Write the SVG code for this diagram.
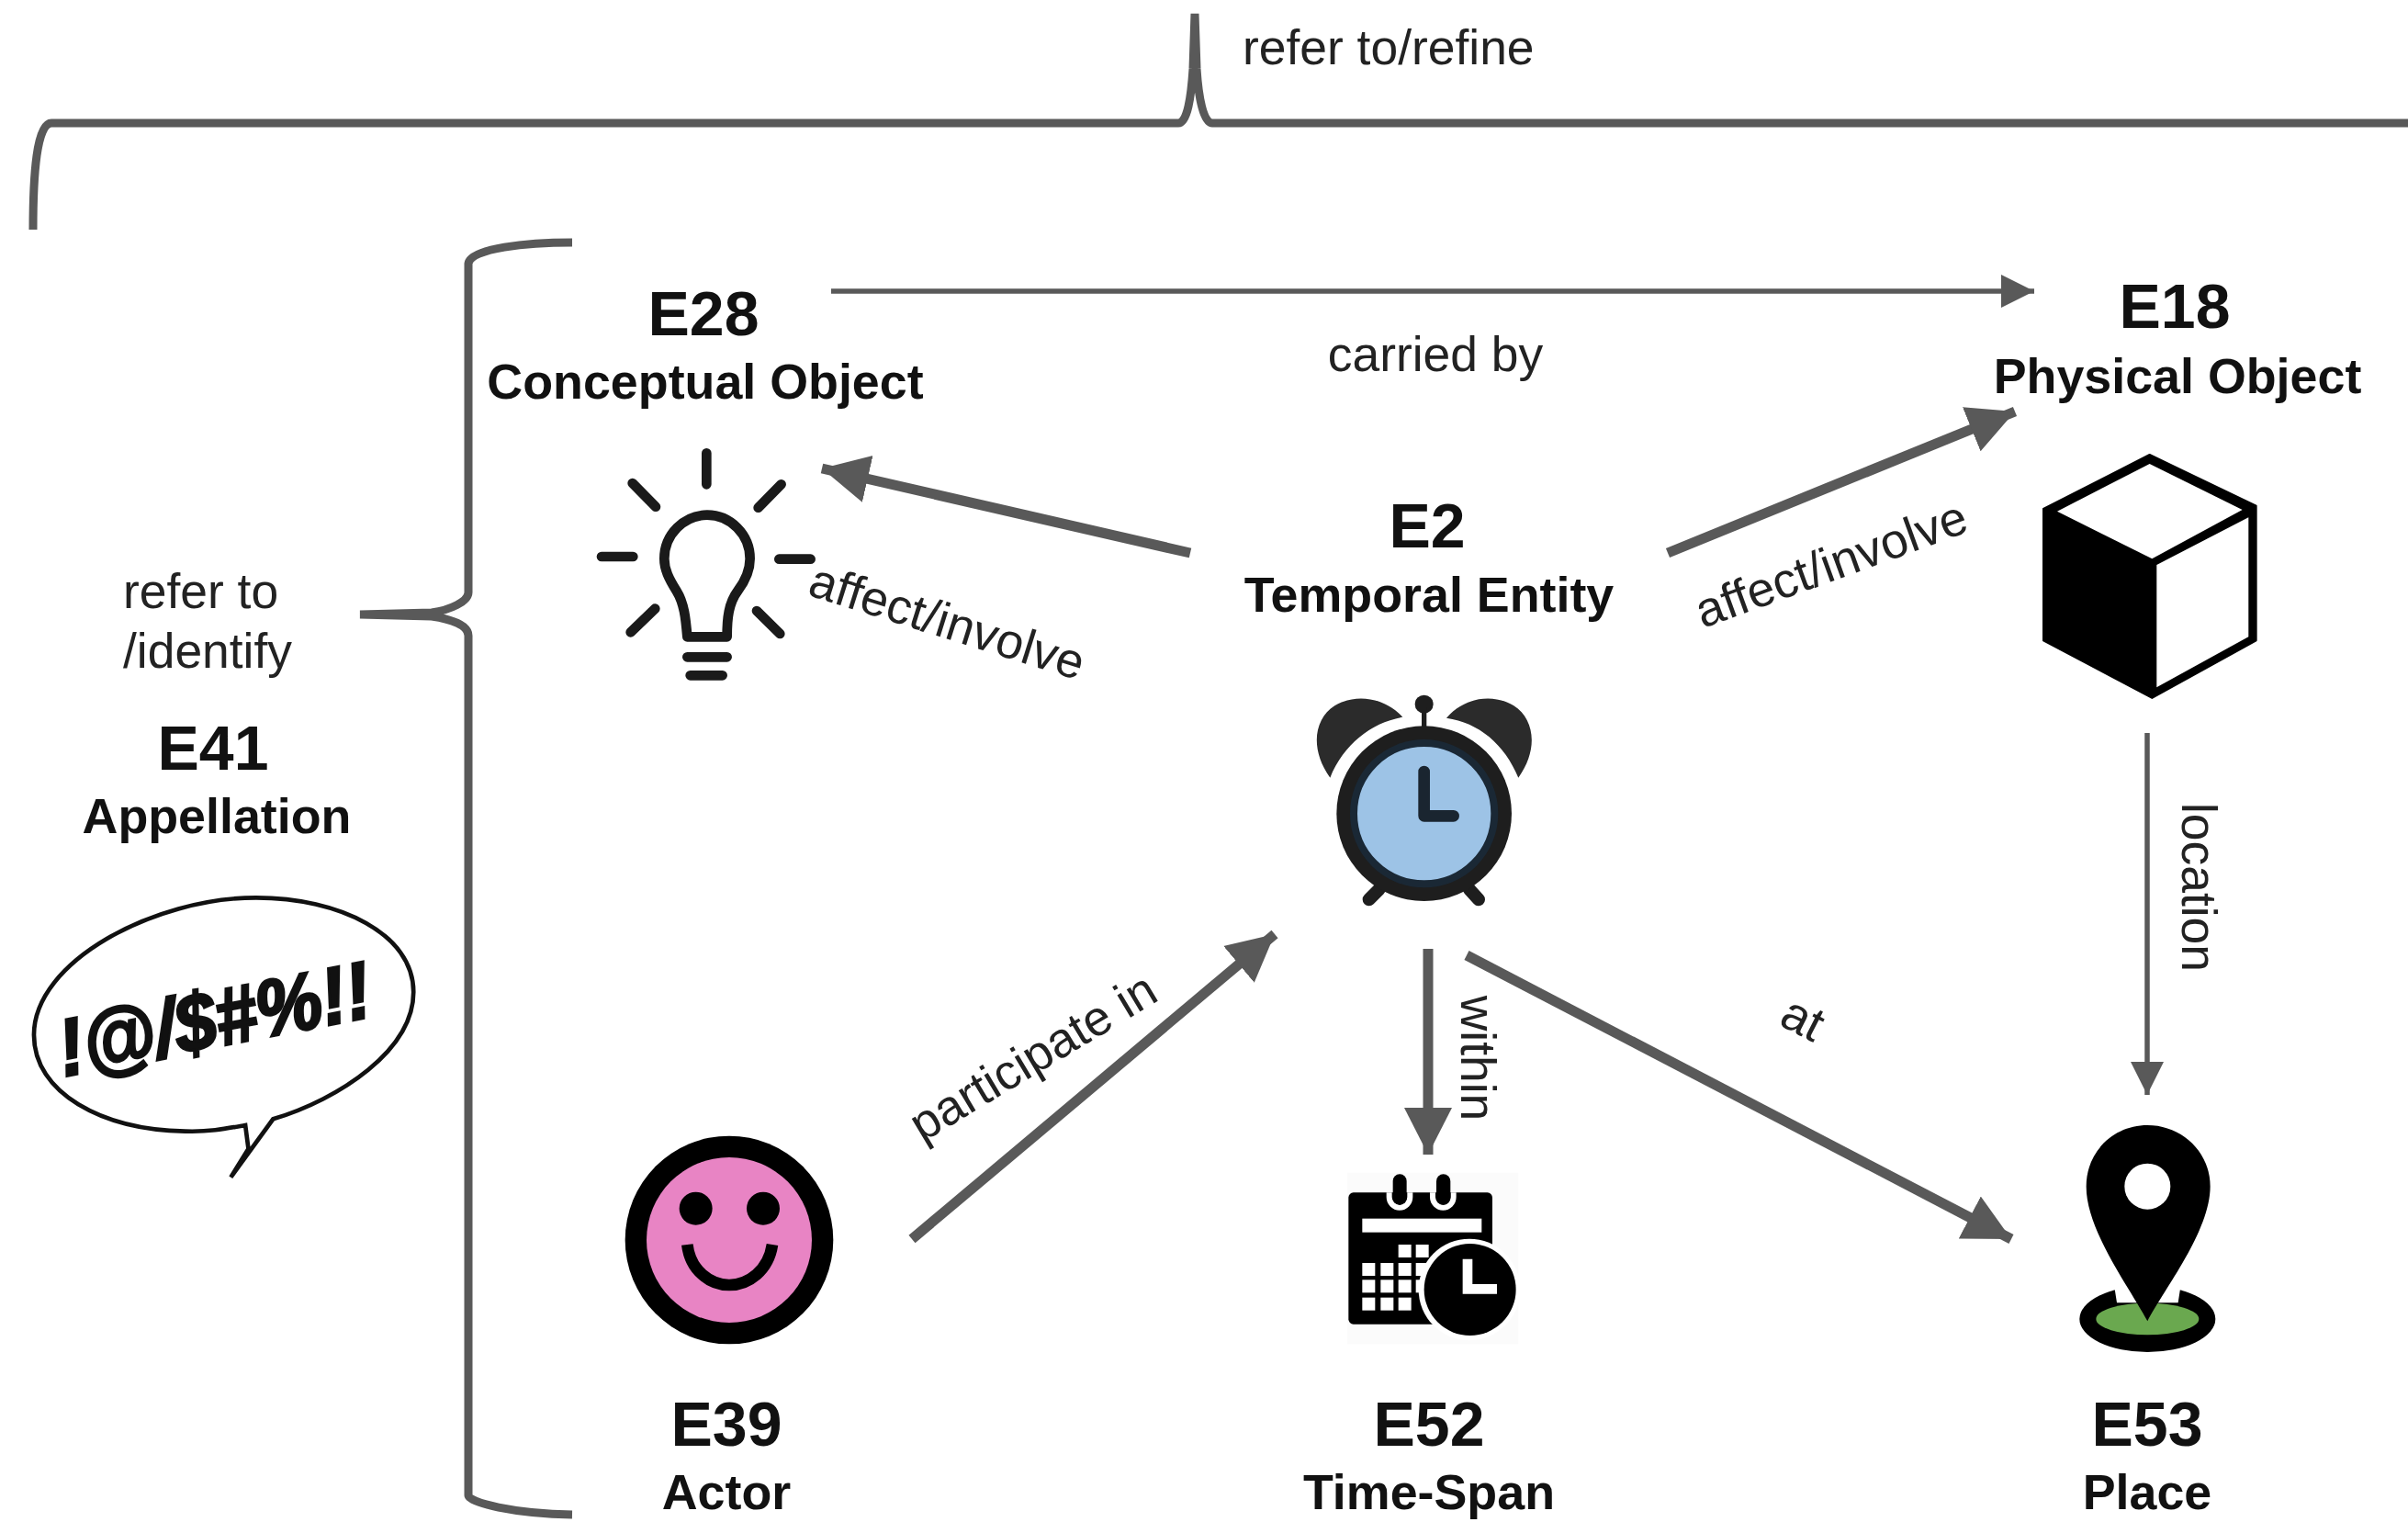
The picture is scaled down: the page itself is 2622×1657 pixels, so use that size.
<svg xmlns="http://www.w3.org/2000/svg" width="2622" height="1657" viewBox="0 0 2622 1657">
<style>
text{font-family:"Liberation Sans",Arial,sans-serif;fill:#111}
.id{font-size:68px;font-weight:700;text-anchor:middle}
.nm{font-size:53.8px;font-weight:700;text-anchor:middle}
.lb{font-size:53.4px;fill:#222}
.lm{font-size:53.4px;fill:#222;text-anchor:middle}
.thin{fill:none;stroke:#595959;stroke-width:5.5;marker-end:url(#hs)}
.thick{fill:none;stroke:#595959;stroke-width:11;marker-end:url(#hl)}
.br{fill:none;stroke:#595959;stroke-width:9}
</style>
<defs>
<marker id="hs" markerUnits="userSpaceOnUse" markerWidth="38" markerHeight="40" refX="36" refY="20" orient="auto"><path d="M0,2 L36,20 L0,38Z" fill="#595959"/></marker>
<marker id="hl" markerUnits="userSpaceOnUse" markerWidth="54" markerHeight="56" refX="51" refY="28" orient="auto"><path d="M0,2 L51,28 L0,54Z" fill="#595959"/></marker>
</defs>
<rect width="2622" height="1657" fill="#fff"/>
<g id="connectors">
<path class="br" d="M36,250C36,190 40,134 56,134L1283,134C1293,134 1297,105 1299,75L1301,15L1303,75C1305,105 1310,134 1320,134L2622,134"/>
<path class="br" d="M623,264C575,264 512,270 510,287L510,645C510,655 490,664 470,667L392,669L470,671C490,674 510,680 510,692L510,1628C510,1636 560,1648 623,1649"/>
<path class="thin" d="M905,317L2215,317"/>
<path class="thin" d="M2338,798L2338,1192"/>
<path class="thick" d="M1296,602L895,510"/>
<path class="thick" d="M1816,602L2194,448"/>
<path class="thick" d="M1555,1033L1555,1257"/>
<path class="thick" d="M1597,1040L2190,1349"/>
<path class="thick" d="M993,1349L1388,1017"/>
</g>
<g id="connector-labels">
<text class="lb" x="1353" y="70">refer to/refine</text>
<text class="lm" x="1563" y="404">carried by</text>
<text class="lm" transform="translate(1026,694) rotate(17.5)">affect/involve</text>
<text class="lm" transform="translate(2000,631) rotate(-20)">affect/involve</text>
<text class="lm" transform="translate(2376,966) rotate(90)">location</text>
<text class="lm" transform="translate(1591,1152) rotate(90)">within</text>
<text class="lm" transform="translate(1955,1125) rotate(27)">at</text>
<text class="lm" transform="translate(1134,1166) rotate(-31)">participate in</text>
<text class="lb" x="134" y="662">refer to</text>
<text class="lb" x="134" y="727">/identify</text>
</g>
<g id="e28">
<text class="id" x="766" y="365">E28</text>
<text class="nm" x="768" y="434">Conceptual Object</text>
<g transform="translate(600,440) scale(.3333)" fill="none" stroke="#1a1a1a" stroke-linecap="round">
<path stroke-width="32" d="M508,160V262M266,258L342,335M752,262L677,338M165,498H268M745,506H848M340,668L260,745M672,675L748,750M445,826H575M455,886H560"/>
<path stroke-width="32" stroke-linejoin="round" d="M445,760L575,760C575,700 580,650 610,610C640,570 650,540 650,505C650,425 585,362 510,362C435,362 370,425 370,505C370,540 385,570 410,610C435,650 440,700 445,760Z"/>
</g>
</g>
<g id="e18">
<text class="id" x="2368" y="357">E18</text>
<text class="nm" x="2371" y="428">Physical Object</text>
<g transform="translate(2180,460) scale(.3333)">
<path fill="#000" stroke="#000" stroke-width="6" stroke-linejoin="round" d="M482,105L830,272V712L490,900L135,712V282Z"/>
<path fill="#fff" d="M482,135L785,285L490,445L180,290Z"/>
<path fill="#fff" d="M805,310V700L505,865V465Z"/>
</g>
</g>
<g id="e2">
<text class="id" x="1554" y="596">E2</text>
<text class="nm" x="1556" y="666">Temporal Entity</text>
<g transform="translate(1400,720) scale(.3333)">
<path fill="#2b2b2b" d="M145,380C80,290 90,190 160,145C225,105 320,115 382,182C280,200 190,270 145,380Z"/>
<path fill="#2b2b2b" d="M760,380C825,290 815,190 745,145C680,105 585,115 525,185C630,200 715,270 760,380Z"/>
<circle cx="452" cy="140" r="30" fill="#1e1e1e"/>
<path stroke="#1e1e1e" stroke-width="16" d="M452,150V230"/>
<path stroke="#1e1e1e" stroke-width="42" stroke-linecap="round" d="M305,745L272,778M600,745L630,778"/>
<circle cx="452" cy="497" r="286" fill="#1e1e1e"/>
<circle cx="452" cy="497" r="230" fill="#9dc3e6" stroke="#1a2835" stroke-width="24"/>
<path fill="none" stroke="#1a2530" stroke-width="38" stroke-linecap="round" stroke-linejoin="round" d="M452,360V505H548"/>
</g>
</g>
<g id="e41">
<text class="id" x="232" y="838">E41</text>
<text class="nm" x="236" y="907">Appellation</text>
<g transform="translate(0,900) scale(.336,.3333)">
<path fill="#fff" stroke="#111" stroke-width="14" stroke-linejoin="miter" d="M885,955C1100,890 1340,730 1340,540C1340,350 1100,232 830,232C500,232 110,440 110,680C110,870 330,990 600,995C680,998 740,985 795,975L805,1052L748,1145Z"/>
</g>
<text transform="translate(239,1139) rotate(-11)" font-size="88" font-weight="700" font-style="italic" text-anchor="middle" stroke="#111" stroke-width="3" lengthAdjust="spacingAndGlyphs" textLength="345">!@/$#%!!</text>
</g>
<g id="e39">
<g transform="translate(640,1220) scale(.3333)">
<circle cx="462" cy="390" r="340" fill="#000"/>
<circle cx="462" cy="390" r="270" fill="#e884c4"/>
<circle cx="353" cy="287" r="54"/>
<circle cx="573" cy="287" r="54"/>
<path fill="none" stroke="#000" stroke-width="38" d="M325,405C335,490 400,537 462,537C525,537 590,490 603,405"/>
</g>
<text class="id" x="791" y="1574">E39</text>
<text class="nm" x="791" y="1643">Actor</text>
</g>
<g id="e52">
<g transform="translate(1440,1260) scale(.3333)">
<rect x="80" y="50" width="560" height="560" fill="#fbfbfb"/>
<rect x="85" y="115" width="470" height="430" rx="16"/>
<path fill="none" stroke="#fff" stroke-width="18" d="M218,115V130a34,34 0 0 0 68,0V115M360,115V130a34,34 0 0 0 68,0V115"/>
<rect x="230" y="55" width="45" height="100" rx="22"/>
<rect x="372" y="55" width="46" height="100" rx="23"/>
<rect x="130" y="200" width="390" height="45" fill="#fff"/>
<g fill="#fff">
<rect x="248" y="285" width="42" height="42"/><rect x="305" y="285" width="42" height="42"/>
<rect x="130" y="345" width="42" height="42"/><rect x="190" y="345" width="42" height="42"/><rect x="248" y="345" width="42" height="42"/><rect x="305" y="345" width="42" height="42"/>
<rect x="130" y="400" width="42" height="42"/><rect x="190" y="400" width="42" height="42"/><rect x="248" y="400" width="42" height="42"/><rect x="305" y="400" width="42" height="42"/>
<rect x="130" y="458" width="42" height="42"/><rect x="190" y="458" width="42" height="42"/><rect x="248" y="458" width="42" height="42"/>
</g>
<circle cx="480" cy="432" r="166" fill="#fff"/>
<circle cx="482" cy="432" r="150"/>
<path fill="none" stroke="#fff" stroke-width="32" d="M474,332V430H570"/>
</g>
<text class="id" x="1556" y="1574">E52</text>
<text class="nm" x="1556" y="1643">Time-Span</text>
</g>
<g id="e53">
<g transform="translate(2220,1200) scale(.3333)">
<ellipse cx="355" cy="708" rx="222" ry="108"/>
<path fill="#fff" d="M245,590H465L455,655H255Z"/>
<ellipse cx="355" cy="708" rx="168" ry="52" fill="#6aa84f"/>
<path d="M355,715C300,610 155,420 155,275C155,160 245,75 355,75C465,75 560,160 560,275C560,420 410,610 355,715Z"/>
<circle cx="355" cy="275" r="75" fill="#fff"/>
</g>
<text class="id" x="2338" y="1574">E53</text>
<text class="nm" x="2338" y="1643">Place</text>
</g>
</svg>
